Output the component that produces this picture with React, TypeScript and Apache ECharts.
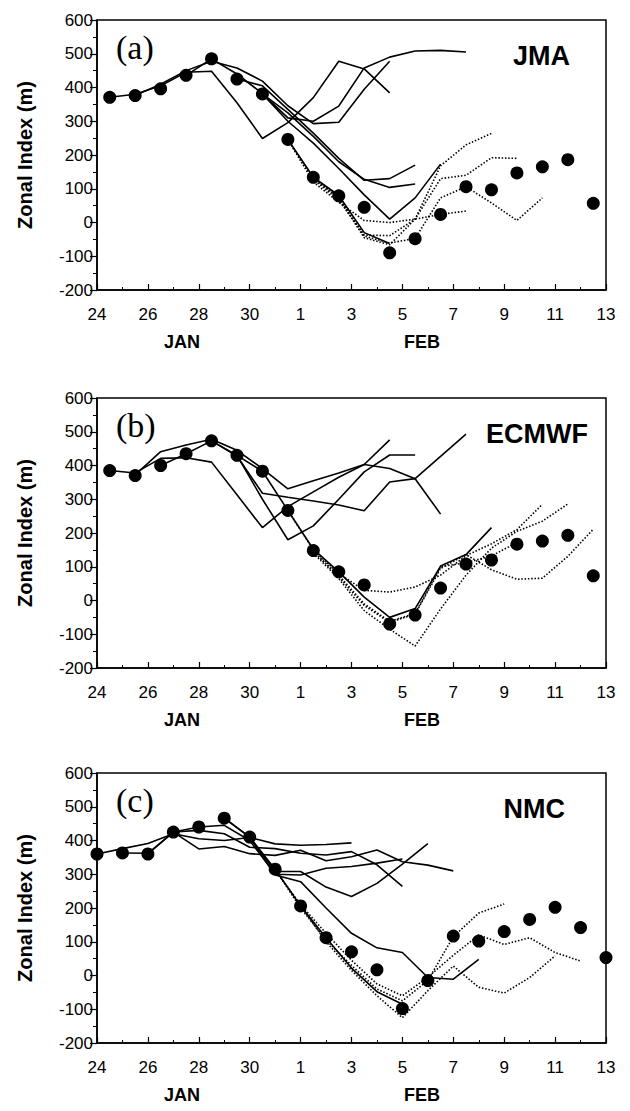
import React, { useEffect, useRef } from "react";
import * as echarts from "echarts";

// x = days after 24 January (0 = Jan 24, 8 = Feb 1, 20 = Feb 13)
const X_TICK_LABELS = ["24", "26", "28", "30", "1", "3", "5", "7", "9", "11", "13"];
const Y_MIN = -200;
const Y_MAX = 600;
const Y_STEP = 100;

// ---------- (a) JMA ----------
const JMA_OBS_DAYS = [0.5, 1.5, 2.5, 3.5, 4.5, 5.5, 6.5, 7.5, 8.5, 9.5, 10.5, 11.5, 12.5, 13.5, 14.5, 15.5, 16.5, 17.5, 18.5, 19.5];
const JMA_OBS = [371, 376, 396, 436, 485, 425, 381, 246, 134, 79, 45, -90, -48, 24, 106, 97, 147, 165, 186, 57];
const JMA_S1 = [[1.5, 376], [2.5, 410], [3.5, 450], [4.5, 478], [5.5, 458], [6.5, 419], [7.5, 346], [8.5, 293], [9.5, 297], [10.5, 395], [11.5, 478]];
const JMA_S2 = [[0.5, 371], [1.5, 380], [2.5, 405], [3.5, 445], [4.5, 448], [5.5, 355], [6.5, 249], [7.5, 296], [8.5, 370], [9.5, 478], [10.5, 455], [11.5, 384]];
const JMA_S3 = [[3.5, 436], [4.5, 485], [5.5, 440], [6.5, 382], [7.5, 310], [8.5, 300], [9.5, 345], [10.5, 458], [11.5, 490], [12.5, 508], [13.5, 510], [14.5, 505]];
const JMA_S4 = [[5.5, 425], [6.5, 405], [7.5, 335], [8.5, 265], [9.5, 190], [10.5, 125], [11.5, 130], [12.5, 170]];
const JMA_S5 = [[6.5, 381], [7.5, 325], [8.5, 255], [9.5, 180], [10.5, 128], [11.5, 104], [12.5, 114]];
const JMA_S6 = [[6.5, 381], [7.5, 300], [8.5, 235], [9.5, 160], [10.5, 82], [11.5, 10], [12.5, 73], [13.5, 173]];
const JMA_S7 = [[7.5, 246], [8.5, 134], [9.5, 80], [10.5, -30], [11.5, -62]];
const JMA_D1 = [[7.5, 246], [8.5, 120], [9.5, 60], [10.5, 6], [11.5, 0], [12.5, 10], [13.5, 24], [14.5, 34]];
const JMA_D2 = [[7.5, 246], [8.5, 128], [9.5, 66], [10.5, -37], [11.5, -39], [12.5, 10], [13.5, 130], [14.5, 140], [15.5, 192], [16.5, 190]];
const JMA_D3 = [[8.5, 134], [9.5, 72], [10.5, -45], [11.5, -66], [12.5, 10], [13.5, 168], [14.5, 230], [15.5, 264]];
const JMA_D4 = [[8.5, 130], [9.5, 75], [10.5, -40], [11.5, -61], [12.5, -47], [13.5, 73], [14.5, 106], [15.5, 58], [16.5, 6], [17.5, 73]];

// ---------- (b) ECMWF ----------
const ECMWF_OBS_DAYS = [0.5, 1.5, 2.5, 3.5, 4.5, 5.5, 6.5, 7.5, 8.5, 9.5, 10.5, 11.5, 12.5, 13.5, 14.5, 15.5, 16.5, 17.5, 18.5, 19.5];
const ECMWF_OBS = [385, 370, 400, 435, 473, 430, 383, 267, 148, 85, 46, -70, -43, 37, 108, 120, 167, 176, 193, 73];
const ECMWF_S1 = [[0.5, 385], [1.5, 378], [2.5, 421], [3.5, 423], [4.5, 410], [5.5, 313], [6.5, 216], [7.5, 278], [8.5, 322], [9.5, 365], [10.5, 403], [11.5, 476]];
const ECMWF_S2 = [[1.5, 372], [2.5, 441], [3.5, 461], [4.5, 478], [5.5, 445], [6.5, 391], [7.5, 331], [8.5, 355], [9.5, 378], [10.5, 403], [11.5, 391], [12.5, 361], [13.5, 427], [14.5, 493]];
const ECMWF_S3 = [[5.5, 430], [6.5, 300], [7.5, 180], [8.5, 221], [9.5, 300], [10.5, 381], [11.5, 431], [12.5, 431]];
const ECMWF_S4 = [[4.5, 473], [5.5, 428], [6.5, 318], [7.5, 306], [8.5, 295], [9.5, 283], [10.5, 266], [11.5, 351], [12.5, 361], [13.5, 256]];
const ECMWF_S5 = [[2.5, 400], [3.5, 435], [4.5, 473], [5.5, 430], [6.5, 383], [7.5, 267], [8.5, 152], [9.5, 85], [10.5, 10], [11.5, -50], [12.5, -24], [13.5, 102], [14.5, 136], [15.5, 216]];
const ECMWF_D1 = [[7.5, 267], [8.5, 150], [9.5, 80], [10.5, 30], [11.5, 25], [12.5, 40], [13.5, 75], [14.5, 133], [15.5, 168], [16.5, 210], [17.5, 285]];
const ECMWF_D2 = [[8.5, 145], [9.5, 70], [10.5, -15], [11.5, -65], [12.5, -40], [13.5, 95], [14.5, 136], [15.5, 91], [16.5, 63], [17.5, 66], [18.5, 131], [19.5, 211]];
const ECMWF_D3 = [[8.5, 140], [9.5, 65], [10.5, -30], [11.5, -85], [12.5, -135], [13.5, -25], [14.5, 75], [15.5, 155], [16.5, 205], [17.5, 235], [18.5, 286]];
const ECMWF_D4 = [[8.5, 145], [9.5, 75], [10.5, -10], [11.5, -62], [12.5, -38], [13.5, 100], [14.5, 112], [15.5, 132], [16.5, 172]];

// ---------- (c) NMC ----------
const NMC_OBS_DAYS = [0, 1, 2, 3, 4, 5, 6, 7, 8, 9, 10, 11, 12, 13, 14, 15, 16, 17, 18, 19, 20];
const NMC_OBS = [360, 363, 360, 425, 440, 466, 410, 315, 206, 112, 70, 17, -98, -15, 117, 102, 130, 166, 202, 142, 53];
const NMC_S1 = [[0, 360], [1, 376], [2, 391], [3, 420], [4, 405], [5, 400], [6, 409], [7, 390], [8, 386], [9, 388], [10, 393]];
const NMC_S2 = [[1, 363], [2, 362], [3, 425], [4, 430], [5, 420], [6, 380], [7, 376], [8, 362], [9, 357], [10, 367], [11, 328], [12, 264]];
const NMC_S3 = [[2, 360], [3, 425], [4, 375], [5, 382], [6, 361], [7, 356], [8, 371], [9, 340], [10, 352], [11, 372], [12, 337], [13, 327], [14, 310]];
const NMC_S4 = [[3, 425], [4, 440], [5, 445], [6, 400], [7, 300], [8, 298], [9, 318], [10, 323], [11, 333], [12, 345]];
const NMC_S5 = [[5, 466], [6, 410], [7, 308], [8, 308], [9, 262], [10, 234], [11, 273], [12, 330], [13, 391]];
const NMC_S6 = [[6, 410], [7, 298], [8, 278], [9, 200], [10, 125], [11, 82], [12, 68], [13, -6], [14, -11], [15, 48]];
const NMC_S7 = [[5, 466], [6, 410], [7, 315], [8, 206], [9, 112], [10, 22], [11, -48], [12, -85]];
const NMC_D1 = [[7, 315], [8, 200], [9, 105], [10, 30], [11, -40], [12, -75], [13, -15], [14, 115], [15, 185], [16, 212]];
const NMC_D2 = [[7, 312], [8, 210], [9, 125], [10, 45], [11, -25], [12, -60], [13, -5], [14, 60], [15, 120], [16, 92], [17, 112], [18, 68], [19, 43]];
const NMC_D3 = [[8, 206], [9, 100], [10, 15], [11, -60], [12, -125], [13, -45], [14, 28], [15, -35], [16, -52], [17, -6], [18, 58]];

const PANELS = [
  { tag: "(a)", name: "JMA", days: JMA_OBS_DAYS, obs: JMA_OBS, solid: [JMA_S1, JMA_S2, JMA_S3, JMA_S4, JMA_S5, JMA_S6, JMA_S7], dotted: [JMA_D1, JMA_D2, JMA_D3, JMA_D4] },
  { tag: "(b)", name: "ECMWF", days: ECMWF_OBS_DAYS, obs: ECMWF_OBS, solid: [ECMWF_S1, ECMWF_S2, ECMWF_S3, ECMWF_S4, ECMWF_S5], dotted: [ECMWF_D1, ECMWF_D2, ECMWF_D3, ECMWF_D4] },
  { tag: "(c)", name: "NMC", days: NMC_OBS_DAYS, obs: NMC_OBS, solid: [NMC_S1, NMC_S2, NMC_S3, NMC_S4, NMC_S5, NMC_S6, NMC_S7], dotted: [NMC_D1, NMC_D2, NMC_D3] },
];

// layout (pixels)
const GRID_LEFT = 97;
const GRID_WIDTH = 509;
const GRID_HEIGHT = 270;
const GRID_TOPS = [20, 398, 773];
const NAME_RIGHT = [60, 42, 65];
const SANS = '"Liberation Sans", Arial, Helvetica, sans-serif';
const SERIF = '"Liberation Serif", "Times New Roman", serif';

export default function App() {
  const ref = useRef<HTMLDivElement | null>(null);

  useEffect(() => {
    document.body.style.margin = "0";
    if (!ref.current) return;
    const chart = echarts.init(ref.current, null, { renderer: "svg" });

    const grids: any[] = [];
    const xAxes: any[] = [];
    const yAxes: any[] = [];
    const series: any[] = [];
    const graphics: any[] = [];

    PANELS.forEach((p, i) => {
      const top = GRID_TOPS[i];
      grids.push({
        left: GRID_LEFT,
        width: GRID_WIDTH,
        top,
        height: GRID_HEIGHT,
        show: true,
        borderColor: "#000",
        borderWidth: 1.5,
        backgroundColor: "transparent",
      });
      xAxes.push({
        type: "value",
        gridIndex: i,
        min: 0,
        max: 20,
        interval: 2,
        axisLine: { show: true, onZero: false, lineStyle: { color: "#000", width: 1.5 } },
        axisTick: { show: true, inside: true, length: 6, lineStyle: { color: "#000", width: 1.2 } },
        minorTick: { show: true, splitNumber: 2, length: 3, lineStyle: { color: "#000", width: 1 } },
        splitLine: { show: false },
        axisLabel: {
          color: "#000",
          fontSize: 17,
          fontFamily: SANS,
          margin: 16,
          formatter: (v: number) => X_TICK_LABELS[Math.round(v / 2)] ?? "",
        },
      });
      yAxes.push({
        type: "value",
        gridIndex: i,
        min: Y_MIN,
        max: Y_MAX,
        interval: Y_STEP,
        axisLine: { show: true, onZero: false, lineStyle: { color: "#000", width: 1.5 } },
        axisTick: { show: true, inside: false, length: 7, lineStyle: { color: "#000", width: 1.2 } },
        minorTick: { show: true, splitNumber: 2, length: 4, lineStyle: { color: "#000", width: 1 } },
        splitLine: { show: false },
        axisLabel: { color: "#000", fontSize: 17, fontFamily: SANS, margin: 4 },
        name: "Zonal Index (m)",
        nameLocation: "middle",
        nameGap: 62,
        nameRotate: 90,
        nameTextStyle: { color: "#000", fontSize: 20, fontWeight: "bold", fontFamily: SANS },
      });

      p.solid.forEach((d) =>
        series.push({
          type: "line",
          xAxisIndex: i,
          yAxisIndex: i,
          data: d,
          symbol: "none",
          silent: true,
          z: 2,
          lineStyle: { color: "#000", width: 1.6, type: "solid" },
        })
      );
      p.dotted.forEach((d) =>
        series.push({
          type: "line",
          xAxisIndex: i,
          yAxisIndex: i,
          data: d,
          symbol: "none",
          silent: true,
          z: 2,
          lineStyle: { color: "#000", width: 1.6, type: [1.5, 1.8] },
        })
      );
      series.push({
        type: "scatter",
        xAxisIndex: i,
        yAxisIndex: i,
        data: p.days.map((d, k) => [d, p.obs[k]]),
        symbol: "circle",
        symbolSize: 13,
        silent: true,
        z: 5,
        itemStyle: { color: "#000", opacity: 1 },
      });

      graphics.push({
        type: "text",
        left: 116,
        top: top + 10,
        silent: true,
        style: { text: p.tag, font: `normal 34px ${SERIF}`, fill: "#000" },
      });
      graphics.push({
        type: "text",
        right: NAME_RIGHT[i],
        top: top + 22,
        silent: true,
        style: { text: p.name, font: `bold 27px ${SANS}`, fill: "#000" },
      });
      const bottom = top + GRID_HEIGHT;
      graphics.push({
        type: "text",
        x: 182,
        y: bottom + 52,
        silent: true,
        style: { text: "JAN", font: `bold 18px ${SANS}`, fill: "#000", align: "center", verticalAlign: "middle", textAlign: "center", textVerticalAlign: "middle" },
      });
      graphics.push({
        type: "text",
        x: 422,
        y: bottom + 52,
        silent: true,
        style: { text: "FEB", font: `bold 18px ${SANS}`, fill: "#000", align: "center", verticalAlign: "middle", textAlign: "center", textVerticalAlign: "middle" },
      });
    });

    chart.setOption({
      animation: false,
      backgroundColor: "#fff",
      grid: grids,
      xAxis: xAxes,
      yAxis: yAxes,
      series,
      graphic: graphics,
    });

    return () => chart.dispose();
  }, []);

  return <div ref={ref} style={{ width: 630, height: 1111 }} />;
}
